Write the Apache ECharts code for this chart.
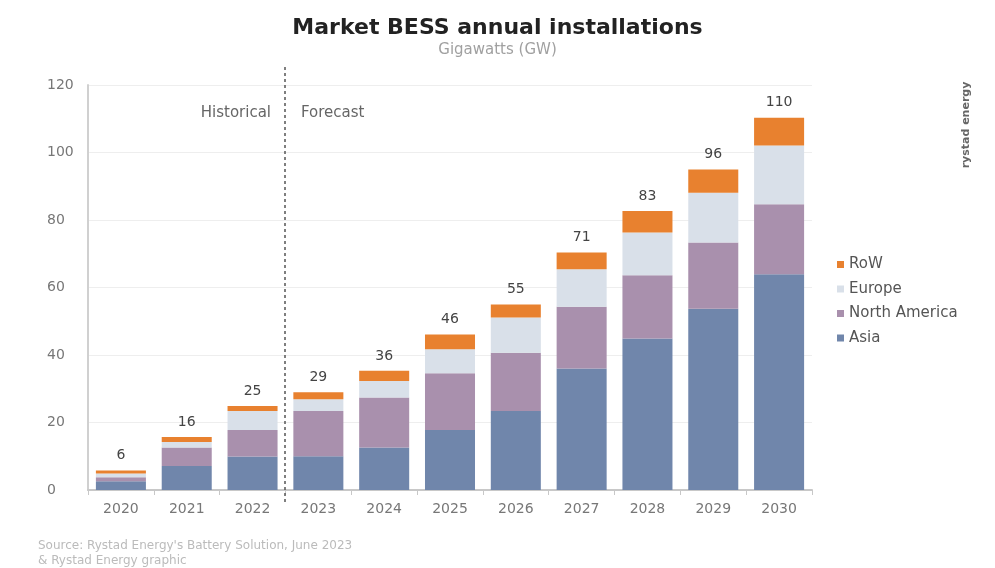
<!DOCTYPE html>
<html>
<head>
<meta charset="utf-8">
<title>Market BESS annual installations</title>
<script src="https://cdn.jsdelivr.net/npm/echarts@6/dist/echarts.min.js"></script>
<style>
  html, body { margin: 0; padding: 0; background: #fff; }
  #chart { width: 995px; height: 568px; }
</style>
</head>
<body>
<div id="chart"></div>
<script>
// values, GW
const years = ['2020', '2021', '2022', '2023', '2024', '2025', '2026', '2027', '2028', '2029', '2030']
const asia = [2.6, 7.1, 9.9, 10.0, 12.6, 17.8, 23.4, 36.0, 44.9, 53.7, 63.9]
const northAmerica = [1.2, 5.5, 7.9, 13.4, 14.8, 16.8, 17.3, 18.3, 18.7, 19.6, 20.8]
const europe = [1.1, 1.6, 5.6, 3.5, 4.9, 7.1, 10.4, 11.1, 12.7, 14.8, 17.4]
const row = [0.9, 1.5, 1.5, 2.1, 3.0, 4.4, 3.9, 5.0, 6.4, 6.9, 8.2]
const totals = [6, 16, 25, 29, 36, 46, 55, 71, 83, 96, 110]
const yTicks = [0, 20, 40, 60, 80, 100, 120]

const colors = {
  asia: '#7086ab',
  na: '#a990ad',
  europe: '#d9e0e9',
  row: '#e8812f'
}
const font = 'DejaVu Sans'

const chart = echarts.init(document.getElementById('chart'))

function bar(name, data, color, withTotal) {
  const s = {
    name: name,
    type: 'bar',
    stack: 'total',
    barWidth: '76%',
    data: data,
    itemStyle: { color: color },
    animation: false
  }
  if (withTotal) {
    s.label = {
      show: true,
      position: 'top',
      distance: 8,
      color: '#444',
      fontFamily: font,
      fontSize: 14,
      formatter: (p) => String(totals[p.dataIndex])
    }
  }
  return s
}

chart.setOption({
  title: {
    text: 'Market BESS annual installations',
    subtext: 'Gigawatts (GW)',
    left: 'center',
    top: 12,
    itemGap: 4,
    textStyle: { fontFamily: font, fontWeight: 'bold', fontSize: 22, color: '#222' },
    subtextStyle: { fontFamily: font, fontSize: 15, color: '#a0a0a0' }
  },
  legend: {
    orient: 'vertical',
    left: 832,
    top: 252,
    itemWidth: 7,
    itemHeight: 7,
    itemGap: 9.5,
    icon: 'rect',
    textStyle: { fontFamily: font, fontSize: 15, color: '#555' },
    data: ['RoW', 'Europe', 'North America', 'Asia']
  },
  grid: {
    left: 88,
    right: 183,
    top: 85,
    bottom: 78
  },
  xAxis: {
    type: 'category',
    data: years,
    axisLine: { lineStyle: { color: '#c8c8c8', width: 2 } },
    axisTick: { show: true, lineStyle: { color: '#c8c8c8' } },
    axisLabel: { fontFamily: font, fontSize: 14, color: '#777', margin: 12 }
  },
  yAxis: {
    type: 'value',
    min: yTicks[0],
    max: yTicks[yTicks.length - 1],
    interval: 20,
    axisLine: { show: true, lineStyle: { color: '#d0d0d0', width: 2 } },
    axisTick: { show: false },
    splitLine: { lineStyle: { color: '#eeeeee' } },
    axisLabel: { fontFamily: font, fontSize: 14, color: '#777', margin: 41, align: 'left' }
  },
  series: [
    bar('Asia', asia, colors.asia, false),
    bar('North America', northAmerica, colors.na, false),
    bar('Europe', europe, colors.europe, false),
    bar('RoW', row, colors.row, true)
  ]
})

// dashed divider between historical and forecast years
const x1 = chart.convertToPixel({ xAxisIndex: 0 }, '2022')
const x2 = chart.convertToPixel({ xAxisIndex: 0 }, '2023')
const xm = Math.round((x1 + x2) / 2)
const yTop = chart.convertToPixel({ yAxisIndex: 0 }, 120)
const yBase = chart.convertToPixel({ yAxisIndex: 0 }, 0)

chart.setOption({
  graphic: [
    {
      type: 'line',
      shape: { x1: xm, y1: yTop - 18, x2: xm, y2: yBase + 12 },
      style: { stroke: '#555', lineWidth: 1.5, lineDash: [3, 3] },
      z: 10
    },
    {
      type: 'text',
      x: xm - 14,
      y: yTop + 28,
      style: { text: 'Historical', fill: '#666', font: '15px "DejaVu Sans"', align: 'right', verticalAlign: 'middle' }
    },
    {
      type: 'text',
      x: xm + 16,
      y: yTop + 28,
      style: { text: 'Forecast', fill: '#666', font: '15px "DejaVu Sans"', align: 'left', verticalAlign: 'middle' }
    },
    {
      type: 'text',
      x: 38,
      y: 538,
      style: {
        text: 'Source: Rystad Energy\'s Battery Solution, June 2023\n& Rystad Energy graphic',
        fill: '#bbbbbb',
        font: '12px "DejaVu Sans"',
        lineHeight: 15
      }
    },
    {
      type: 'text',
      x: 966,
      y: 125,
      rotation: Math.PI / 2,
      style: {
        text: 'rystad energy',
        fill: '#666',
        font: 'bold 11px "DejaVu Sans"',
        align: 'center',
        verticalAlign: 'middle'
      }
    }
  ]
})
</script>
</body>
</html>
